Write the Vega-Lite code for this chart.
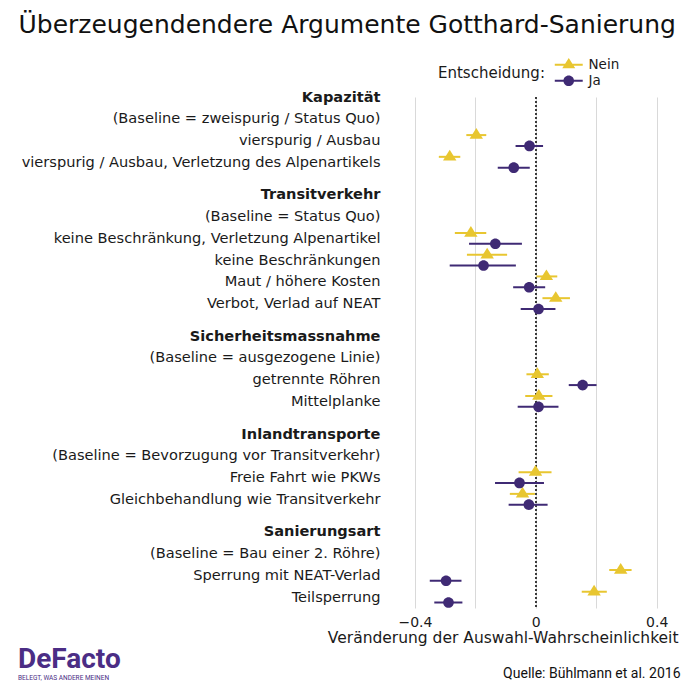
{
  "$schema": "https://vega.github.io/schema/vega-lite/v6.json",
  "width": 284,
  "height": 511,
  "autosize": {"type": "none"},
  "padding": {"left": 392, "top": 97, "right": 16, "bottom": 87},
  "background": "white",
  "title": {
    "text": "DeFacto",
    "subtitle": "BELEGT, WAS ANDERE MEINEN",
    "orient": "bottom",
    "anchor": "start",
    "frame": "group",
    "dx": -374,
    "offset": -34,
    "font": "Roboto",
    "fontSize": 28,
    "fontWeight": "bold",
    "color": "#4b2d85",
    "subtitleFont": "Roboto",
    "subtitleFontSize": 6.5,
    "subtitleColor": "#4b2d85",
    "subtitlePadding": 1
  },
  "datasets": {
    "effects": [
      {"label": "vierspurig / Ausbau", "Entscheidung": "Nein", "est": -0.197, "lo": -0.230, "hi": -0.164},
      {"label": "vierspurig / Ausbau", "Entscheidung": "Ja", "est": -0.021, "lo": -0.067, "hi": 0.024},
      {"label": "vierspurig / Ausbau, Verletzung des Alpenartikels", "Entscheidung": "Nein", "est": -0.285, "lo": -0.321, "hi": -0.250},
      {"label": "vierspurig / Ausbau, Verletzung des Alpenartikels", "Entscheidung": "Ja", "est": -0.073, "lo": -0.126, "hi": -0.020},
      {"label": "keine Beschränkung, Verletzung Alpenartikel", "Entscheidung": "Nein", "est": -0.215, "lo": -0.268, "hi": -0.164},
      {"label": "keine Beschränkung, Verletzung Alpenartikel", "Entscheidung": "Ja", "est": -0.134, "lo": -0.221, "hi": -0.046},
      {"label": "keine Beschränkungen", "Entscheidung": "Nein", "est": -0.161, "lo": -0.228, "hi": -0.095},
      {"label": "keine Beschränkungen", "Entscheidung": "Ja", "est": -0.173, "lo": -0.285, "hi": -0.066},
      {"label": "Maut / höhere Kosten", "Entscheidung": "Nein", "est": 0.035, "lo": 0.002, "hi": 0.071},
      {"label": "Maut / höhere Kosten", "Entscheidung": "Ja", "est": -0.022, "lo": -0.075, "hi": 0.031},
      {"label": "Verbot, Verlad auf NEAT", "Entscheidung": "Nein", "est": 0.066, "lo": 0.022, "hi": 0.113},
      {"label": "Verbot, Verlad auf NEAT", "Entscheidung": "Ja", "est": 0.009, "lo": -0.050, "hi": 0.065},
      {"label": "getrennte Röhren", "Entscheidung": "Nein", "est": 0.005, "lo": -0.031, "hi": 0.043},
      {"label": "getrennte Röhren", "Entscheidung": "Ja", "est": 0.155, "lo": 0.109, "hi": 0.201},
      {"label": "Mittelplanke", "Entscheidung": "Nein", "est": 0.010, "lo": -0.035, "hi": 0.055},
      {"label": "Mittelplanke", "Entscheidung": "Ja", "est": 0.009, "lo": -0.060, "hi": 0.075},
      {"label": "Freie Fahrt wie PKWs", "Entscheidung": "Nein", "est": -0.001, "lo": -0.057, "hi": 0.052},
      {"label": "Freie Fahrt wie PKWs", "Entscheidung": "Ja", "est": -0.054, "lo": -0.135, "hi": 0.027},
      {"label": "Gleichbehandlung wie Transitverkehr", "Entscheidung": "Nein", "est": -0.044, "lo": -0.086, "hi": -0.003},
      {"label": "Gleichbehandlung wie Transitverkehr", "Entscheidung": "Ja", "est": -0.023, "lo": -0.090, "hi": 0.039},
      {"label": "Sperrung mit NEAT-Verlad", "Entscheidung": "Nein", "est": 0.281, "lo": 0.243, "hi": 0.317},
      {"label": "Sperrung mit NEAT-Verlad", "Entscheidung": "Ja", "est": -0.297, "lo": -0.351, "hi": -0.246},
      {"label": "Teilsperrung", "Entscheidung": "Nein", "est": 0.193, "lo": 0.152, "hi": 0.235},
      {"label": "Teilsperrung", "Entscheidung": "Ja", "est": -0.289, "lo": -0.336, "hi": -0.243}
    ],
    "gridrows": [
      {"label": "(Baseline = zweispurig / Status Quo)"},
      {"label": "vierspurig / Ausbau"},
      {"label": "vierspurig / Ausbau, Verletzung des Alpenartikels"},
      {"label": "(Baseline = Status Quo)"},
      {"label": "keine Beschränkung, Verletzung Alpenartikel"},
      {"label": "keine Beschränkungen"},
      {"label": "Maut / höhere Kosten"},
      {"label": "Verbot, Verlad auf NEAT"},
      {"label": "(Baseline = ausgezogene Linie)"},
      {"label": "getrennte Röhren"},
      {"label": "Mittelplanke"},
      {"label": "(Baseline = Bevorzugung vor Transitverkehr)"},
      {"label": "Freie Fahrt wie PKWs"},
      {"label": "Gleichbehandlung wie Transitverkehr"},
      {"label": "(Baseline = Bau einer 2. Röhre)"},
      {"label": "Sperrung mit NEAT-Verlad"},
      {"label": "Teilsperrung"}
    ]
  },
  "resolve": {"scale": {"x": "independent"}, "axis": {"x": "independent"}},
  "layer": [
    {
      "data": {"name": "gridrows"},
      "mark": {"type": "rule", "color": "#3a3a3a", "strokeDash": [2, 2], "strokeWidth": 1},
      "encoding": {
        "x": {
          "datum": 0,
          "type": "quantitative",
          "scale": {"domain": [-0.476, 0.464], "nice": false, "zero": false},
          "axis": {
            "orient": "bottom",
            "labels": false,
            "ticks": false,
            "domain": false,
            "grid": false,
            "title": "Quelle: Bühlmann et al. 2016",
            "titleFont": "Roboto",
            "titleFontSize": 14,
            "titleFontWeight": "normal",
            "titleColor": "#111111",
            "titleAlign": "right",
            "titleAnchor": null,
            "titleBaseline": "alphabetic",
            "titleX": 288,
            "titleY": 69
          }
        }
      }
    },
    {
      "layer": [
        {
          "data": {"name": "gridrows"},
          "mark": {"type": "rule", "strokeWidth": 1.4},
          "encoding": {
            "y": {"field": "label", "type": "nominal"},
            "color": {"value": "#e8e8e8"}
          }
        },
        {
          "data": {"name": "effects"},
          "mark": {"type": "bar", "height": 2},
          "encoding": {
            "x": {"field": "lo", "type": "quantitative"},
            "x2": {"field": "hi"}
          }
        },
        {
          "data": {"name": "effects"},
          "transform": [{"filter": "datum.Entscheidung === 'Nein'"}],
          "mark": {"type": "point", "filled": true, "opacity": 1, "size": 180, "strokeWidth": 0, "shape": "M0,-1.05L1,0.55L-1,0.55Z"},
          "encoding": {
            "x": {"field": "est", "type": "quantitative"}
          }
        },
        {
          "data": {"name": "effects"},
          "transform": [{"filter": "datum.Entscheidung === 'Ja'"}],
          "mark": {"type": "point", "filled": true, "opacity": 1, "size": 169, "strokeWidth": 0, "shape": "M-0.82,0A0.82,0.82 0 1,1 0.82,0A0.82,0.82 0 1,1 -0.82,0Z"},
          "encoding": {
            "x": {"field": "est", "type": "quantitative"}
          }
        }
      ],
      "encoding": {
        "y": {
          "field": "label",
          "type": "nominal",
          "scale": {
            "type": "point",
            "padding": 0,
            "domain": [
              "Kapazität", "_1", "(Baseline = zweispurig / Status Quo)", "_2", "vierspurig / Ausbau", "_3", "vierspurig / Ausbau, Verletzung des Alpenartikels", "_4", "_5",
              "Transitverkehr", "_6", "(Baseline = Status Quo)", "_7", "keine Beschränkung, Verletzung Alpenartikel", "_8", "keine Beschränkungen", "_9", "Maut / höhere Kosten", "_10", "Verbot, Verlad auf NEAT", "_11", "_12",
              "Sicherheitsmassnahme", "_13", "(Baseline = ausgezogene Linie)", "_14", "getrennte Röhren", "_15", "Mittelplanke", "_16", "_17",
              "Inlandtransporte", "_18", "(Baseline = Bevorzugung vor Transitverkehr)", "_19", "Freie Fahrt wie PKWs", "_20", "Gleichbehandlung wie Transitverkehr", "_21", "_22",
              "Sanierungsart", "_23", "(Baseline = Bau einer 2. Röhre)", "_24", "Sperrung mit NEAT-Verlad", "_25", "Teilsperrung", "_26"
            ]
          },
          "axis": {
            "orient": "left",
            "ticks": false,
            "domain": false,
            "grid": false,
            "labelPadding": 12,
            "labelLimit": 500,
            "labelFont": "DejaVu Sans",
            "labelFontSize": 14.6,
            "labelColor": "#1a1a1a",
            "labelExpr": "slice(datum.label, 0, 1) === '_' ? '' : datum.label",
            "labelFontWeight": {
              "condition": {"test": "indexof(['Kapazität','Transitverkehr','Sicherheitsmassnahme','Inlandtransporte','Sanierungsart'], datum.value) >= 0", "value": "bold"},
              "value": "normal"
            },
            "title": "Überzeugendendere Argumente Gotthard-Sanierung",
            "titleFont": "DejaVu Sans",
            "titleFontSize": 25,
            "titleFontWeight": "normal",
            "titleColor": "#111111",
            "titleAngle": 0,
            "titleAlign": "left",
            "titleAnchor": null,
            "titleBaseline": "alphabetic",
            "titleX": -374,
            "titleY": -65
          }
        },
        "yOffset": {
          "field": "Entscheidung",
          "type": "nominal",
          "scale": {"type": "point", "domain": ["Nein", "Ja"], "range": [-5.4, 5.4], "padding": 0}
        },
        "x": {
          "field": "est",
          "type": "quantitative",
          "scale": {"domain": [-0.476, 0.464], "nice": false, "zero": false},
          "axis": {
            "orient": "bottom",
            "values": [-0.4, -0.2, 0, 0.2, 0.4],
            "format": "~g",
            "labelExpr": "abs(datum.value) > 0.1 && abs(datum.value) < 0.3 ? '' : datum.label",
            "ticks": false,
            "tickSize": 0,
            "domain": false,
            "grid": true,
            "gridColor": "#d9d9d9",
            "gridWidth": 1,
            "labelPadding": 7,
            "labelFont": "DejaVu Sans",
            "labelFontSize": 14,
            "labelColor": "#1a1a1a",
            "title": "Veränderung der Auswahl-Wahrscheinlichkeit",
            "titleFont": "DejaVu Sans",
            "titleFontSize": 15.5,
            "titleFontWeight": "normal",
            "titleColor": "#1a1a1a",
            "titleAlign": "right",
            "titleAnchor": null,
            "titleBaseline": "alphabetic",
            "titleX": 286,
            "titleY": 34
          }
        },
        "color": {
          "field": "Entscheidung",
          "type": "nominal",
          "scale": {"domain": ["Nein", "Ja"], "range": ["#e8c630", "#3f2a74"]},
          "legend": {
            "orient": "none",
            "legendX": 46,
            "legendY": -39,
            "direction": "vertical",
            "title": "Entscheidung:",
            "titleOrient": "left",
            "titleAnchor": "middle",
            "titleBaseline": "middle",
            "titleFont": "DejaVu Sans",
            "titleFontSize": 15,
            "titleFontWeight": "normal",
            "titleColor": "#1a1a1a",
            "titlePadding": 17,
            "labelFont": "DejaVu Sans",
            "labelFontSize": 13.5,
            "labelColor": "#1a1a1a",
            "labelOffset": 13,
            "rowPadding": 1,
            "symbolSize": 169,
            "symbolStrokeWidth": 0,
            "symbolOpacity": 1,
            "encode": {
              "symbols": {
                "update": {
                  "shape": {"signal": "datum.value === 'Nein' ? 'M-2.15,-0.15H2.15V0.15H-2.15Z M0,-1.05L1,0.55L-1,0.55Z' : 'M-2.15,-0.15H2.15V0.15H-2.15Z M-0.82,0A0.82,0.82 0 1,1 0.82,0A0.82,0.82 0 1,1 -0.82,0Z'"}
                }
              }
            }
          }
        }
      }
    }
  ],
  "config": {
    "view": {"stroke": null},
    "font": "DejaVu Sans"
  }
}
